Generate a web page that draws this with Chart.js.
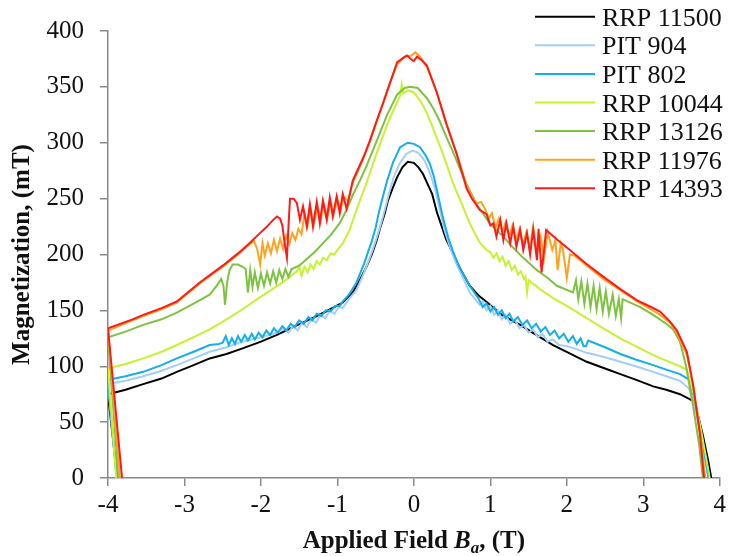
<!DOCTYPE html>
<html><head><meta charset="utf-8">
<script src="https://cdn.jsdelivr.net/npm/chart.js@4.4.1/dist/chart.umd.min.js"></script>
<style>html,body{margin:0;padding:0;background:#fff;}#wrap{width:730px;height:556px;}</style>
</head><body><div id="wrap"><canvas id="c" width="730" height="556"></canvas></div>
<script>
// ---- data (Applied field B in T, magnetization M in mT) ----
const seriesLabels = ["RRP 11500","PIT 904","PIT 802","RRP 10044","RRP 13126","RRP 11976","RRP 14393"];
const xTickValues = [-4,-3,-2,-1,0,1,2,3,4];
const yTickValues = [0,50,100,150,200,250,300,350,400];

const rrp11500 = [[-3.86,-12],[-4.0,75],[-3.77,79],[-3.54,84],[-3.3,89],[-3.1,95],[-2.88,101],[-2.67,107],[-2.45,111],[-2.24,116],[-2.0,122],[-1.79,128],[-1.58,135],[-1.36,142],[-1.15,149],[-0.93,157],[-0.8,166],[-0.7,178],[-0.62,189],[-0.55,200],[-0.49,212],[-0.44,224],[-0.38,237],[-0.34,248],[-0.28,259],[-0.22,269],[-0.15,278],[-0.08,283],[0.0,282],[0.06,278],[0.12,272],[0.18,263],[0.24,254],[0.3,238],[0.36,226],[0.42,214],[0.51,201],[0.6,188],[0.73,172],[0.85,163],[0.96,157],[1.15,146],[1.39,137],[1.6,128],[1.82,119],[2.05,111],[2.26,104],[2.5,98],[2.7,93],[2.9,88],[3.13,82],[3.3,79],[3.48,75],[3.65,69],[3.72,55],[3.78,38],[3.85,15],[3.92,-12]];

const pit904 = [[-3.87,-12],[-4.0,84],[-3.77,87],[-3.54,91],[-3.3,96],[-3.1,101],[-2.88,107],[-2.67,113],[-2.45,117],[-2.24,122],[-2.0,126],[-1.79,130],[-1.7,134],[-1.64,130],[-1.58,136],[-1.52,132],[-1.46,139],[-1.4,135],[-1.34,142],[-1.28,139],[-1.22,146],[-1.16,143],[-1.1,150],[-1.04,147],[-0.98,153],[-0.93,152],[-0.85,160],[-0.75,168],[-0.65,184],[-0.56,200],[-0.5,212],[-0.44,225],[-0.38,240],[-0.32,256],[-0.26,270],[-0.19,281],[-0.1,290],[-0.02,293],[0.06,291],[0.14,284],[0.22,271],[0.28,258],[0.34,240],[0.4,222],[0.48,205],[0.56,191],[0.65,178],[0.73,166],[0.8,160],[0.86,155],[0.9,158],[0.95,150],[1.0,154],[1.05,146],[1.1,150],[1.15,142],[1.2,146],[1.26,138],[1.32,142],[1.38,134],[1.44,137],[1.5,130],[1.56,133],[1.62,126],[1.68,129],[1.75,122],[1.82,124],[1.9,119],[2.0,118],[2.1,116],[2.26,112],[2.5,108],[2.7,104],[2.9,100],[3.13,95],[3.3,91],[3.48,87],[3.6,80],[3.68,62],[3.76,35],[3.83,8],[3.88,-12]];

const pit802 = [[-3.87,-12],[-4.0,88],[-3.77,91],[-3.54,95],[-3.3,101],[-3.1,107],[-2.88,113],[-2.67,119],[-2.55,120],[-2.5,121],[-2.46,127],[-2.42,119],[-2.38,125],[-2.34,120],[-2.3,127],[-2.26,122],[-2.21,128],[-2.17,123],[-2.12,129],[-2.08,124],[-2.03,130],[-1.98,126],[-1.93,132],[-1.88,128],[-1.83,134],[-1.78,130],[-1.72,136],[-1.67,132],[-1.61,138],[-1.56,135],[-1.5,141],[-1.44,138],[-1.38,144],[-1.33,141],[-1.27,147],[-1.21,145],[-1.15,150],[-1.09,149],[-1.03,154],[-0.97,154],[-0.93,158],[-0.85,164],[-0.75,175],[-0.65,192],[-0.55,212],[-0.5,224],[-0.46,237],[-0.42,248],[-0.35,266],[-0.27,283],[-0.18,296],[-0.08,300],[0.0,299],[0.08,296],[0.15,289],[0.21,281],[0.26,270],[0.3,258],[0.38,233],[0.45,215],[0.51,203],[0.6,188],[0.73,172],[0.85,160],[0.9,153],[0.95,156],[1.0,149],[1.05,153],[1.1,146],[1.15,150],[1.2,143],[1.25,147],[1.3,140],[1.36,144],[1.42,137],[1.48,141],[1.54,134],[1.6,138],[1.66,131],[1.72,135],[1.78,128],[1.84,132],[1.9,125],[1.96,129],[2.02,122],[2.08,127],[2.13,120],[2.18,125],[2.22,118],[2.25,118],[2.28,123],[2.5,117],[2.7,111],[2.9,106],[3.13,101],[3.3,97],[3.48,93],[3.6,88],[3.68,68],[3.76,38],[3.83,10],[3.88,-12]];

const rrp10044 = [[-3.88,-12],[-4.0,98],[-3.77,102],[-3.54,107],[-3.3,113],[-3.1,119],[-2.88,126],[-2.67,133],[-2.45,142],[-2.24,151],[-2.05,160],[-1.85,169],[-1.7,176],[-1.53,185],[-1.5,190],[-1.47,181],[-1.43,189],[-1.39,184],[-1.35,191],[-1.31,187],[-1.27,194],[-1.23,191],[-1.19,197],[-1.14,195],[-1.09,201],[-1.04,200],[-0.98,206],[-0.93,210],[-0.84,222],[-0.75,240],[-0.62,264],[-0.49,290],[-0.35,316],[-0.25,332],[-0.18,342],[-0.16,352],[-0.14,344],[-0.08,347],[0.0,345],[0.1,336],[0.18,325],[0.25,313],[0.38,290],[0.51,264],[0.64,243],[0.73,228],[0.85,212],[0.95,204],[1.0,202],[1.04,197],[1.08,201],[1.12,194],[1.16,198],[1.2,190],[1.24,194],[1.28,186],[1.32,190],[1.36,182],[1.4,185],[1.44,178],[1.46,180],[1.48,166],[1.5,177],[1.65,169],[1.82,161],[2.0,154],[2.26,143],[2.5,133],[2.7,125],[2.9,118],[3.13,110],[3.3,105],[3.48,100],[3.57,97],[3.66,75],[3.75,45],[3.83,15],[3.9,-12]];

const rrp13126 = [[-3.85,-12],[-4.0,126],[-3.77,131],[-3.54,137],[-3.3,142],[-3.1,148],[-2.88,156],[-2.67,164],[-2.58,172],[-2.52,178],[-2.49,172],[-2.47,155],[-2.44,176],[-2.41,186],[-2.37,191],[-2.3,191],[-2.24,189],[-2.2,187],[-2.17,166],[-2.14,186],[-2.11,171],[-2.08,184],[-2.04,170],[-2.0,183],[-1.96,172],[-1.92,184],[-1.88,174],[-1.84,185],[-1.8,175],[-1.76,186],[-1.72,178],[-1.68,187],[-1.64,180],[-1.6,187],[-1.5,190],[-1.4,196],[-1.3,202],[-1.19,210],[-1.08,218],[-0.97,228],[-0.88,240],[-0.8,253],[-0.7,267],[-0.62,279],[-0.49,301],[-0.35,325],[-0.22,343],[-0.12,349],[-0.05,350],[0.05,349],[0.17,340],[0.26,330],[0.34,319],[0.42,306],[0.51,292],[0.6,277],[0.69,263],[0.82,245],[1.0,227],[1.17,216],[1.3,206],[1.43,197],[1.61,186],[1.75,179],[1.87,172],[2.08,166],[2.12,177],[2.15,160],[2.19,176],[2.23,156],[2.27,174],[2.31,153],[2.35,172],[2.39,151],[2.43,170],[2.47,149],[2.51,167],[2.55,147],[2.6,164],[2.64,145],[2.68,160],[2.71,143],[2.73,160],[2.96,153],[3.13,146],[3.3,138],[3.39,133],[3.48,122],[3.56,100],[3.65,65],[3.73,30],[3.8,-12]];

const rrp11976 = [[-3.83,-12],[-4.0,132],[-3.68,141],[-3.54,145],[-3.3,151],[-3.1,157],[-2.8,174],[-2.5,189],[-2.3,200],[-2.15,209],[-2.09,212],[-2.05,205],[-2.01,191],[-1.98,210],[-1.95,199],[-1.91,210],[-1.87,201],[-1.83,213],[-1.79,203],[-1.75,214],[-1.71,205],[-1.67,217],[-1.63,209],[-1.59,219],[-1.55,213],[-1.51,223],[-1.47,218],[-1.43,237],[-1.39,226],[-1.35,240],[-1.31,227],[-1.26,243],[-1.22,230],[-1.18,246],[-1.13,233],[-1.09,248],[-1.05,236],[-1.0,250],[-0.96,239],[-0.92,252],[-0.86,248],[-0.8,264],[-0.66,286],[-0.58,300],[-0.49,318],[-0.4,336],[-0.31,354],[-0.22,370],[-0.12,377],[-0.03,378],[0.02,381],[0.08,377],[0.17,368],[0.3,345],[0.43,316],[0.56,290],[0.69,262],[0.77,250],[0.83,246],[0.88,247],[0.93,241],[0.98,232],[1.02,237],[1.07,224],[1.11,232],[1.16,220],[1.2,229],[1.25,216],[1.29,226],[1.34,213],[1.38,223],[1.43,209],[1.47,220],[1.52,205],[1.56,225],[1.61,200],[1.66,216],[1.7,196],[1.75,220],[1.81,204],[1.85,213],[1.88,186],[1.92,210],[1.95,204],[2.0,179],[2.04,200],[2.1,199],[2.3,188],[2.48,178],[2.7,168],[2.92,158],[3.1,151],[3.22,146],[3.35,139],[3.44,130],[3.57,110],[3.66,80],[3.75,36],[3.83,-12]];

const rrp14393 = [[-3.8,-12],[-4.0,134],[-3.68,142],[-3.54,146],[-3.3,152],[-3.1,158],[-2.8,175],[-2.5,190],[-2.3,201],[-2.15,210],[-2.03,218],[-1.92,225],[-1.84,231],[-1.79,234],[-1.75,232],[-1.72,226],[-1.69,210],[-1.66,197],[-1.64,225],[-1.62,250],[-1.57,250],[-1.53,246],[-1.49,231],[-1.45,243],[-1.4,225],[-1.36,245],[-1.32,225],[-1.27,247],[-1.23,228],[-1.19,248],[-1.14,231],[-1.1,251],[-1.06,234],[-1.01,252],[-0.97,237],[-0.93,254],[-0.88,241],[-0.8,266],[-0.66,287],[-0.58,301],[-0.49,319],[-0.4,336],[-0.31,354],[-0.22,372],[-0.14,376],[-0.09,378],[-0.04,375],[0.0,373],[0.04,377],[0.1,374],[0.17,369],[0.3,345],[0.43,316],[0.56,290],[0.69,259],[0.76,250],[0.86,240],[0.95,236],[1.0,226],[1.04,228],[1.08,216],[1.13,231],[1.17,213],[1.21,228],[1.26,210],[1.3,225],[1.34,207],[1.39,222],[1.43,204],[1.48,219],[1.52,200],[1.56,222],[1.61,195],[1.63,223],[1.67,184],[1.73,222],[1.88,213],[2.04,204],[2.25,192],[2.48,180],[2.7,169],[2.92,159],[3.1,153],[3.22,149],[3.35,140],[3.44,132],[3.57,113],[3.65,84],[3.74,40],[3.81,-12]];

const seriesData = [rrp11500, pit904, pit802, rrp10044, rrp13126, rrp11976, rrp14393];

// ---- styles ----
const seriesColors = ["#000000","#a3cef7","#14aeea","#c6f230","#7ec242","#ffa21f","#ff1a1a"];
const FONT = "'Liberation Serif','Times New Roman',serif";
const AXIS_GRAY = "#8a8a8a";

const datasets = seriesData.map((pts, i) => ({
  label: seriesLabels[i],
  data: pts.map(p => ({x: p[0], y: p[1]})),
  borderColor: seriesColors[i],
  backgroundColor: seriesColors[i],
  borderWidth: 2,
  pointRadius: 0,
  showLine: true,
  tension: 0,
  fill: false,
  order: seriesData.length - 1 - i
}));

const overlay = {
  id: 'overlay',
  afterDraw(chart) {
    const ctx = chart.ctx;
    const area = chart.chartArea;
    ctx.save();
    // legend
    ctx.font = "26px " + FONT;
    ctx.textAlign = 'left';
    ctx.textBaseline = 'alphabetic';
    seriesLabels.forEach((lab, i) => {
      const y = 16.7 + i * 28.6;
      ctx.strokeStyle = seriesColors[i];
      ctx.lineWidth = 2;
      ctx.beginPath(); ctx.moveTo(535, y); ctx.lineTo(595, y); ctx.stroke();
      ctx.fillStyle = '#111';
      ctx.fillText(lab, 602, y + 9);
    });
    // y title
    ctx.save();
    ctx.translate(23, (area.top + area.bottom) / 2);
    ctx.rotate(-Math.PI / 2);
    ctx.font = "bold 25px " + FONT;
    ctx.textAlign = 'center';
    ctx.textBaseline = 'middle';
    ctx.fillStyle = '#111';
    ctx.fillText("Magnetization, (mT)", 0, 0);
    ctx.restore();
    // x title with italic B and subscript a
    const parts = [
      {t: "Applied Field ", f: "bold 25px " + FONT, dy: 0},
      {t: "B", f: "italic bold 25px " + FONT, dy: 0},
      {t: "a", f: "italic bold 17px " + FONT, dy: 5},
      {t: ", (T)", f: "bold 25px " + FONT, dy: 0}
    ];
    let total = 0;
    parts.forEach(p => { ctx.font = p.f; p.w = ctx.measureText(p.t).width; total += p.w; });
    let x = (area.left + area.right) / 2 - total / 2;
    const base = 548;
    ctx.textAlign = 'left';
    ctx.textBaseline = 'alphabetic';
    ctx.fillStyle = '#111';
    parts.forEach(p => { ctx.font = p.f; ctx.fillText(p.t, x, base + p.dy); x += p.w; });
    ctx.restore();
  }
};

new Chart(document.getElementById('c'), {
  type: 'scatter',
  data: { datasets },
  plugins: [overlay],
  options: {
    responsive: false,
    devicePixelRatio: 1,
    animation: false,
    layout: { padding: { top: 25, right: 10, left: 0, bottom: 0 } },
    plugins: { legend: { display: false }, tooltip: { enabled: false } },
    scales: {
      x: {
        type: 'linear', min: -4, max: 4,
        afterBuildTicks(scale) { scale.ticks = xTickValues.map(v => ({value: v})); },
        afterFit(scale) { scale.height = 78; },
        ticks: { color: '#111', font: { family: FONT, size: 25 }, padding: 4, maxRotation: 0, autoSkip: false },
        grid: { drawOnChartArea: false, drawTicks: true, tickLength: 8, tickColor: AXIS_GRAY, lineWidth: 1.5 },
        border: { display: true, color: AXIS_GRAY, width: 1.5 }
      },
      y: {
        type: 'linear', min: 0, max: 400,
        afterBuildTicks(scale) { scale.ticks = yTickValues.map(v => ({value: v})); },
        afterFit(scale) { scale.width = 108; },
        ticks: { color: '#111', font: { family: FONT, size: 25 }, padding: 16, autoSkip: false },
        grid: { drawOnChartArea: false, drawTicks: true, tickLength: 8, tickColor: AXIS_GRAY, lineWidth: 1.5 },
        border: { display: true, color: AXIS_GRAY, width: 1.5 }
      }
    }
  }
});
</script></body></html>
